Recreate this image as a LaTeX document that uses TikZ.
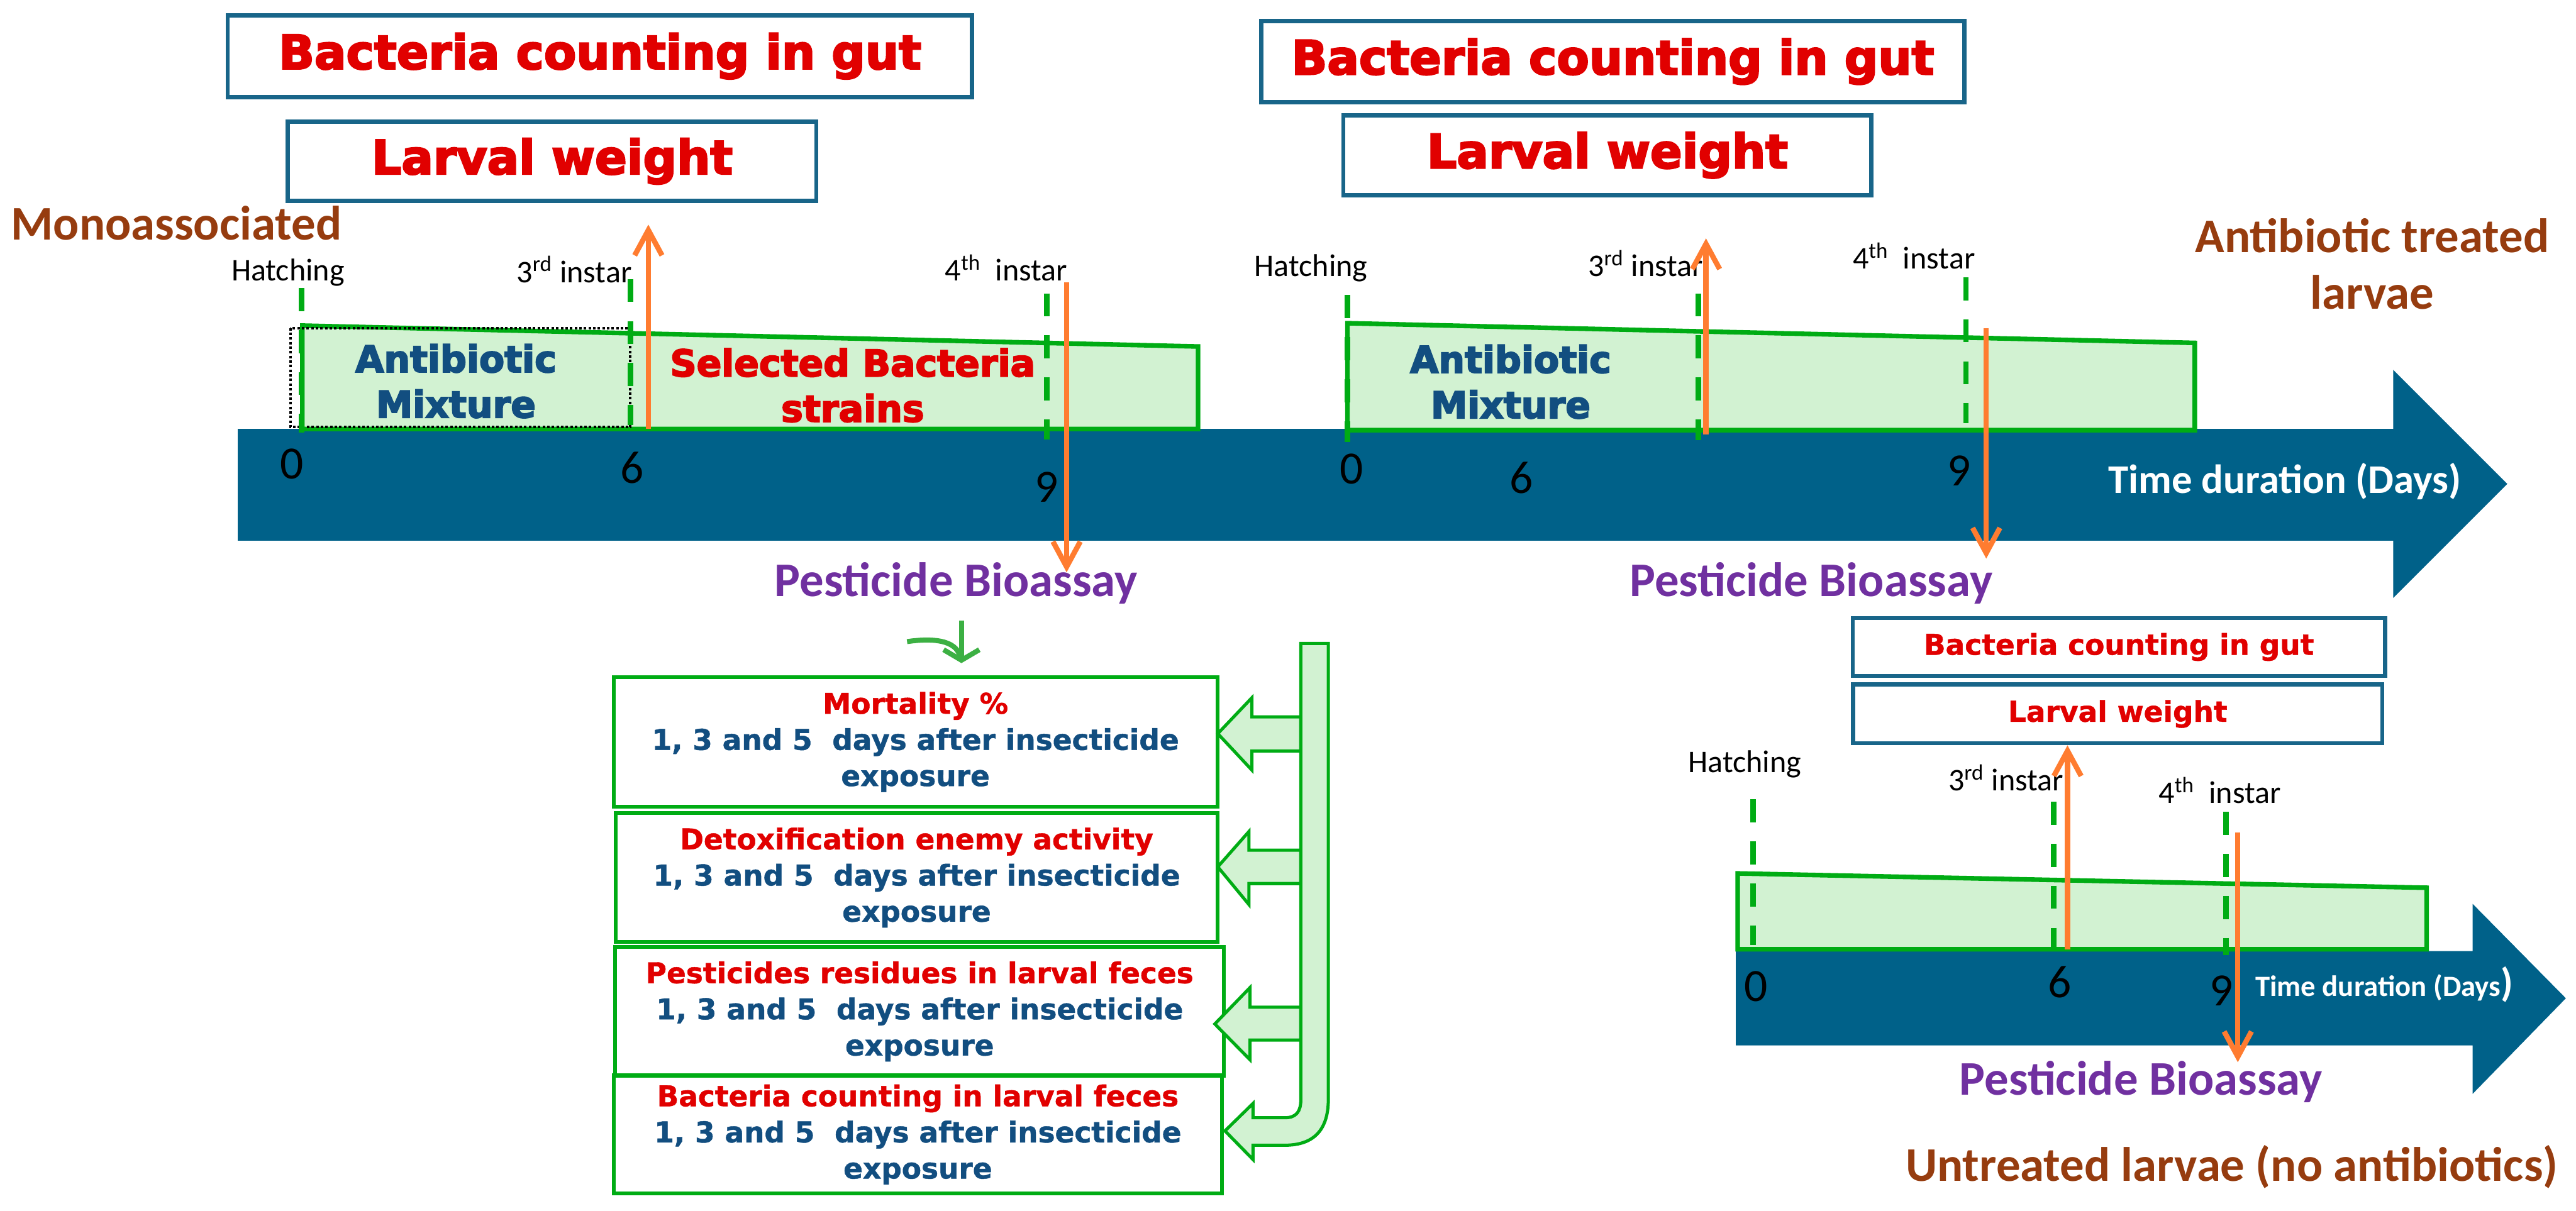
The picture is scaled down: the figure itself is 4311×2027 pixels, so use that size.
\documentclass[tikz,border=0pt]{standalone}
\usepackage{fontspec}
\setmainfont{Carlito}
\newfontfamily\boxfont{DejaVu Sans}[BoldFeatures={FakeBold=3.5}]
\newfontfamily\listfont{DejaVu Sans}[BoldFeatures={FakeBold=1}]
\usetikzlibrary{arrows.meta}
\definecolor{bandblue}{RGB}{0,97,137}
\definecolor{boxblue}{RGB}{24,101,137}
\definecolor{txtred}{RGB}{225,0,0}
\definecolor{txtnavy}{RGB}{18,78,128}
\definecolor{grnline}{RGB}{0,172,20}
\definecolor{grnfill}{RGB}{210,242,210}
\definecolor{curlgreen}{RGB}{60,176,67}
\definecolor{arrorange}{RGB}{255,124,48}
\definecolor{bioviolet}{RGB}{112,48,160}
\definecolor{groupbrown}{RGB}{150,60,15}

\begin{document}
\begin{tikzpicture}[x=0.01cm, y=-0.01cm,
    topbox/.style={draw=boxblue, line width=2pt, fill=white, inner sep=0pt,
      text=txtred, font=\boxfont\bfseries\fontsize{22.4}{26}\selectfont},
    smallbox/.style={topbox, font=\listfont\bfseries\fontsize{13.6}{16}\selectfont},
    listbox/.style={draw=grnline, line width=1.8pt, inner sep=0pt, align=center,
      text=txtnavy, font=\listfont\bfseries\fontsize{13.6}{17.2}\selectfont},
    stagebox/.style={fill=grnfill, draw=grnline, line width=2.2pt},
    instarline/.style={draw=grnline, line width=2.6pt, dash pattern=on 11pt off 9pt},
    orangearrow/.style={draw=arrorange, line width=2.5pt,
      -{Straight Barb[length=12pt, width=13pt, line width=2.5pt]}},
    blockarrow/.style={fill=grnfill, draw=grnline, line width=1.5pt},
    daylabel/.style={anchor=base, font=\fontsize{15}{18}\selectfont},
    daynum/.style={font=\fontsize{22}{22}\selectfont},
    grouplabel/.style={anchor=base, text=groupbrown, font=\bfseries\fontsize{23}{27}\selectfont},
    bioassay/.style={anchor=base, text=bioviolet, font=\bfseries\fontsize{23}{27}\selectfont},
    treatment/.style={align=center, font=\boxfont\bfseries\fontsize{17.5}{21.6}\selectfont},
    timelabel/.style={anchor=base, text=white, font=\bfseries\fontsize{19.4}{22}\selectfont}]
  \useasboundingbox (0,0) rectangle (4311,2027);

  \fill[bandblue] (398,718) -- (4005,718) -- (4005,619) -- (4196,810) -- (4005,1001)
    -- (4005,905) -- (398,905) -- cycle;
  \fill[bandblue] (2905,1592) -- (4138,1592) -- (4138,1513) -- (4294,1671) -- (4138,1831)
    -- (4138,1750) -- (2905,1750) -- cycle;

  \draw[stagebox] (506,718) -- (506,545) -- (2005,580) -- (2005,718) -- cycle;
  \draw[stagebox] (2255,720) -- (2255,541) -- (3673,574) -- (3673,720) -- cycle;
  \draw[stagebox] (2908,1589) -- (2908,1462) -- (4061,1486) -- (4061,1589) -- cycle;
  \draw[densely dotted, line width=1.2pt] (486,549) rectangle (1055,715);

  \draw[instarline] (505,482) -- (505,724);
  \draw[instarline] (1055,467) -- (1055,712);
  \draw[instarline] (1752,491) -- (1752,736);
  \draw[instarline] (2255,494) -- (2255,740);
  \draw[instarline] (2842,491) -- (2842,737);
  \draw[instarline] (3290,464) -- (3290,708);
  \draw[instarline] (2934,1338) -- (2934,1582);
  \draw[instarline] (3437,1342) -- (3437,1585);
  \draw[instarline] (3725,1359) -- (3725,1599);

  \node (bc1) at (1004,94) [topbox, minimum width=12.45cm, minimum height=1.37cm] {Bacteria counting in gut};
  \node (lw1) at (924,270) [topbox, minimum width=8.84cm, minimum height=1.33cm] {Larval weight};
  \node (bc2) at (2699,103) [topbox, minimum width=11.76cm, minimum height=1.36cm] {Bacteria counting in gut};
  \node (lw2) at (2690,260) [topbox, minimum width=8.83cm, minimum height=1.34cm] {Larval weight};
  \node (bc3) at (3546,1083) [smallbox, minimum width=8.90cm, minimum height=0.97cm] {Bacteria counting in gut};
  \node (lw3) at (3544,1195) [smallbox, minimum width=8.85cm, minimum height=0.98cm] {Larval weight};

  \node (mono) at (295,402) [grouplabel] {Monoassociated};
  \node (abt) at (3970,442) [text=groupbrown, align=center, font=\bfseries\fontsize{23}{27}\selectfont] {Antibiotic treated\\larvae};
  \node (untr) at (3735,1977) [grouplabel] {Untreated larvae (no antibiotics)};

  \node (hat1) at (482,470) [daylabel] {Hatching};
  \node (thi1) at (961,473) [daylabel] {3\textsuperscript{rd} instar};
  \node (fou1) at (1684,470) [daylabel] {4\textsuperscript{th}\ \ instar};
  \node (hat2) at (2194,463) [daylabel] {Hatching};
  \node (thi2) at (2754,463) [daylabel] {3\textsuperscript{rd} instar};
  \node (fou2) at (3203,450) [daylabel] {4\textsuperscript{th}\ \ instar};
  \node (hat3) at (2920,1293) [daylabel] {Hatching};
  \node (thi3) at (3357,1324) [daylabel] {3\textsuperscript{rd} instar};
  \node (fou3) at (3715,1345) [daylabel] {4\textsuperscript{th}\ \ instar};

  \node (mix1) at (763,638) [treatment, text=txtnavy] {Antibiotic\\Mixture};
  \node (sel1) at (1427,645) [treatment, text=txtred] {Selected Bacteria\\strains};
  \node (mix2) at (2528,639) [treatment, text=txtnavy] {Antibiotic\\Mixture};

  \node (d0a) at (489,777) [daynum] {0};
  \node (d6a) at (1058,783) [daynum] {6};
  \node (d9a) at (1751,815) [daynum] {9};
  \node (d0b) at (2262,785) [daynum] {0};
  \node (d6b) at (2546,800) [daynum] {6};
  \node (d9b) at (3279,788) [daynum] {9};
  \node (d0c) at (2939,1651) [daynum] {0};
  \node (d6c) at (3447,1644) [daynum] {6};
  \node (d9c) at (3718,1658) [daynum] {9};

  \node (td1) at (3824,826) [timelabel] {Time duration (Days)};
  \node (td3) at (3990,1668) [timelabel, font=\bfseries\fontsize{14}{16}\selectfont] {Time duration (Days{\fontsize{19}{19}\selectfont)}};

  \node (pb1) at (1600,998) [bioassay] {Pesticide Bioassay};
  \node (pb2) at (3031,998) [bioassay] {Pesticide Bioassay};
  \node (pb3) at (3583,1833) [bioassay] {Pesticide Bioassay};

  \node (mort) at (1532,1242) [listbox, minimum width=10.10cm, minimum height=2.16cm]
    {\textcolor{txtred}{Mortality \%}\\1, 3 and 5\ \ days after insecticide\\exposure};
  \node (detox) at (1534,1469) [listbox, minimum width=10.07cm, minimum height=2.16cm]
    {\textcolor{txtred}{Detoxification enemy activity}\\1, 3 and 5\ \ days after insecticide\\exposure};
  \node (resid) at (1539,1693) [listbox, minimum width=10.18cm, minimum height=2.15cm]
    {\textcolor{txtred}{Pesticides residues in larval feces}\\1, 3 and 5\ \ days after insecticide\\exposure};
  \node (feces) at (1536,1899) [listbox, minimum width=10.18cm, minimum height=1.98cm]
    {\textcolor{txtred}{Bacteria counting in larval feces}\\1, 3 and 5\ \ days after insecticide\\exposure};

  \coordinate (up1a) at (1085,718);  \coordinate (up1b) at (1085,376);
  \coordinate (dn1a) at (1785,473);  \coordinate (dn1b) at (1785,958);
  \coordinate (up2a) at (2855,727);  \coordinate (up2b) at (2855,399);
  \coordinate (dn2a) at (3324,549);  \coordinate (dn2b) at (3324,935);
  \coordinate (up3a) at (3460,1589);
  \coordinate (dn3a) at (3745,1393); \coordinate (dn3b) at (3745,1778);
  \draw[orangearrow] (up1a) -- (up1b);
  \draw[orangearrow] (dn1a) -- (dn1b);
  \draw[orangearrow] (up2a) -- (up2b);
  \draw[orangearrow] (dn2a) -- (dn2b);
  \draw[orangearrow] (up3a) -- (lw3.south -| up3a);
  \draw[orangearrow] (dn3a) -- (dn3b);

  \coordinate (curl) at (1518,1074);
  \coordinate (stemtop) at (1609,1039);
  \coordinate (stemend) at (1609,1110);
  \draw[curlgreen, line width=2.4pt] (curl) .. controls (1572,1066) and (1604,1076) .. (1607,1102);
  \draw[curlgreen, line width=2.4pt, -{Straight Barb[length=5pt, width=17pt, line width=2.4pt]}] (stemtop) -- (stemend);

  \draw[blockarrow] (2177,1200) -- (2095,1200) -- (2095,1168) -- (2038,1228) -- (2095,1289)
    -- (2095,1257) -- (2177,1257) -- cycle;
  \draw[blockarrow] (2177,1423) -- (2090,1423) -- (2090,1392) -- (2038,1451) -- (2090,1514)
    -- (2090,1479) -- (2177,1479) -- cycle;
  \draw[blockarrow] (2177,1686) -- (2092,1686) -- (2092,1653) -- (2033,1714) -- (2092,1774)
    -- (2092,1741) -- (2177,1741) -- cycle;
  \draw[blockarrow] (2177,1077) -- (2223,1077) -- (2223,1840) .. controls (2223,1890) and (2200,1917) .. (2150,1917)
    -- (2097,1917) -- (2097,1941) -- (2050,1893) -- (2097,1847) -- (2097,1871) -- (2150,1871)
    .. controls (2170,1871) and (2177,1860) .. (2177,1840) -- cycle;
\end{tikzpicture}
\end{document}
